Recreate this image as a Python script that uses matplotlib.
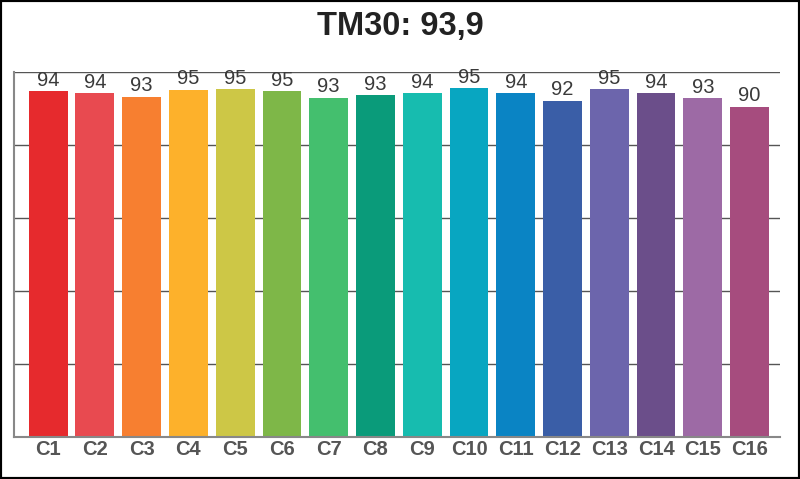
import matplotlib
matplotlib.use('Agg')
import matplotlib.pyplot as plt
from matplotlib.patches import Rectangle

categories = ['C1', 'C2', 'C3', 'C4', 'C5', 'C6', 'C7', 'C8',
              'C9', 'C10', 'C11', 'C12', 'C13', 'C14', 'C15', 'C16']
values = [94.7, 94.2, 93.2, 95.1, 95.3, 94.7, 92.9, 93.6,
          94.2, 95.5, 94.2, 92.1, 95.3, 94.2, 92.8, 90.5]
labels = [94, 94, 93, 95, 95, 95, 93, 93, 94, 95, 94, 92, 95, 94, 93, 90]
colors = ['#e62a2d', '#e84a50', '#f77f30', '#fdb12b', '#cdc746', '#7eb748',
          '#44bf6e', '#0a9b7a', '#17bcaf', '#08a6c1', '#0a84c4', '#3a5ea7',
          '#6c65ac', '#6b4e8a', '#9d6aa5', '#a64c7e']
title = 'TM30: 93,9'

plt.rcParams['font.family'] = ['Liberation Sans', 'DejaVu Sans']

fig = plt.figure(figsize=(8, 4.79), dpi=100)
ax = fig.add_axes([0.0175, 0.0877, 0.9575, 0.762])

x = range(len(categories))
bars = ax.bar(x, values, width=0.83, color=colors, zorder=2)

for b, lab in zip(bars, labels):
    ax.text(b.get_x() + b.get_width() / 2, b.get_height() + 0.4, str(lab),
            ha='center', va='bottom', fontsize=14.5, color='#3a3a3a', zorder=3)

ax.set_ylim(0, 100)
ax.set_xlim(-0.73, 15.65)
ax.set_yticks([0, 20, 40, 60, 80, 100])
ax.set_yticklabels([])
ax.yaxis.grid(True, color='#555555', linewidth=1, zorder=0)
ax.set_axisbelow(True)
ax.set_xticks(list(x))
ax.set_xticklabels(categories, fontsize=14.5, fontweight='bold', color='#555555')
ax.tick_params(axis='both', length=0, pad=2)

for side in ['top', 'right']:
    ax.spines[side].set_visible(False)
for side in ['left', 'bottom']:
    ax.spines[side].set_color('#888888')
    ax.spines[side].set_linewidth(1.5)

fig.text(0.5, 0.945, title, ha='center', va='center', fontsize=23.5,
         fontweight='bold', color='#222222')

fig.patches.append(Rectangle((0, 0), 1, 1, transform=fig.transFigure,
                             fill=False, edgecolor='black', linewidth=3))

fig.savefig('out.png', dpi=100)
